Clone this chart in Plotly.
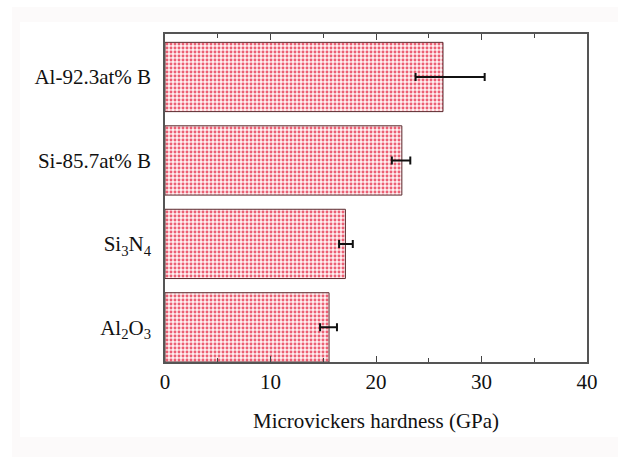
import plotly.graph_objects as go

# Materials (bottom to top) and their microvickers hardness in GPa
materials = ["Al<sub>2</sub>O<sub>3</sub>", "Si<sub>3</sub>N<sub>4</sub>", "Si-85.7at% B", "Al-92.3at% B"]
hardness = [15.55, 17.1, 22.45, 26.35]
err_plus = [0.75, 0.7, 0.8, 3.95]
err_minus = [0.85, 0.6, 0.95, 2.6]

x_ticks = [0, 10, 20, 30, 40]

FONT = "Liberation Serif"

# figure geometry (pixels)
W, H = 625, 457
L, R, T, B = 165, 38, 34, 95
pw, ph = W - L - R, H - T - B


def px(x):
    return (x - L) / pw


def py(y):
    return (H - B - y) / ph


fig = go.Figure()
fig.add_trace(go.Bar(
    y=list(range(len(materials))),
    x=hardness,
    orientation="h",
    width=0.83,
    marker=dict(
        color="#f6b3ba",
        line=dict(color="#5a2a2e", width=1),
        pattern=dict(shape=".", size=4, solidity=0.42,
                     fgcolor="#ec5f74", bgcolor="#fff0f1", fillmode="replace"),
    ),
    error_x=dict(type="data", symmetric=False, array=err_plus, arrayminus=err_minus,
                 color="#111111", thickness=2, width=4),
    showlegend=False,
))

# faint frame around the figure
fig.add_shape(type="rect", xref="paper", yref="paper", layer="below",
              x0=px(12), x1=px(618), y0=py(457), y1=py(7),
              fillcolor="#fcfafa", line=dict(width=0))
fig.add_shape(type="rect", xref="paper", yref="paper", layer="below",
              x0=px(20), x1=px(618), y0=py(437), y1=py(22),
              fillcolor="#ffffff", line=dict(width=0))

fig.update_layout(
    width=W, height=H,
    margin=dict(l=L, r=R, t=T, b=B, pad=0),
    paper_bgcolor="white",
    plot_bgcolor="rgba(0,0,0,0)",
    font=dict(family=FONT, size=21, color="#111111"),
    bargap=0.17,
)
fig.update_xaxes(
    range=[0, 40],
    tickvals=x_ticks,
    ticktext=[str(v) for v in x_ticks],
    ticks="inside", ticklen=6, tickwidth=1, tickcolor="#444444",
    minor=dict(ticks="inside", dtick=5, ticklen=4, tickwidth=1, tickcolor="#444444"),
    showline=True, linecolor="#555555", linewidth=1.5, mirror="allticks",
    showgrid=False, zeroline=False,
    tickfont=dict(family=FONT, size=21, color="#111111"),
    title=dict(text="Microvickers hardness (GPa)", standoff=20,
               font=dict(family=FONT, size=21, color="#111111")),
)
fig.update_yaxes(
    range=[-0.415, 3.515],
    tickvals=list(range(len(materials))),
    ticktext=materials,
    ticks="", ticklabelstandoff=8,
    showline=True, linecolor="#555555", linewidth=1.5, mirror=True,
    showgrid=False, zeroline=False,
    tickfont=dict(family=FONT, size=21, color="#111111"),
)

fig.write_html("out.html")
